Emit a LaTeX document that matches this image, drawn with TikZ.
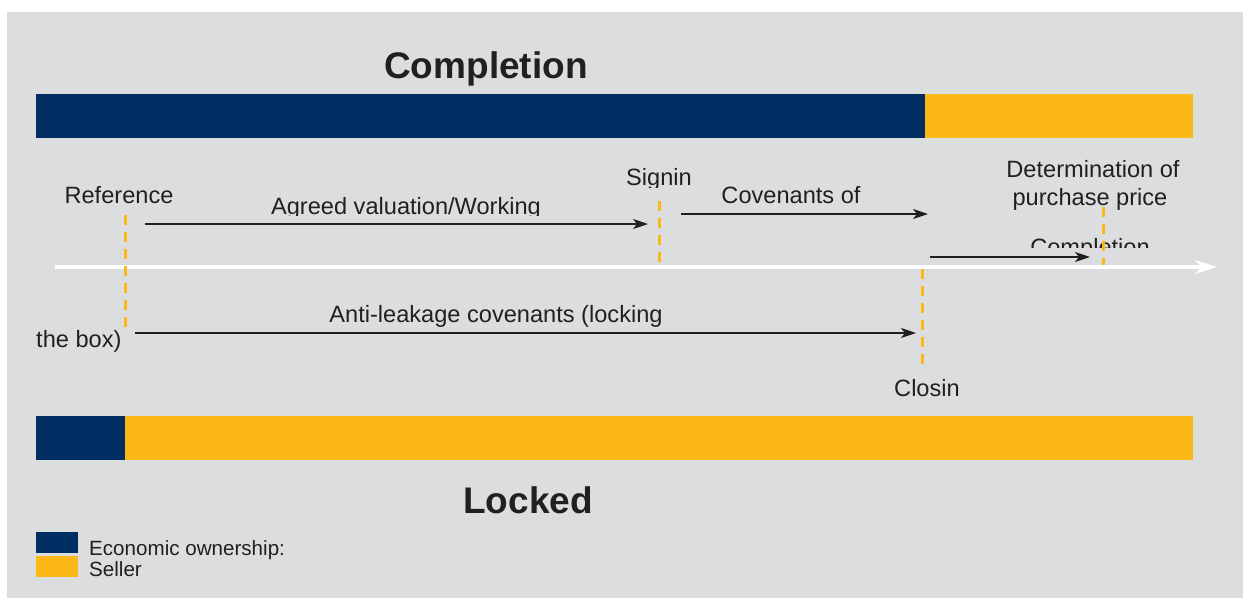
\documentclass[tikz,border=0pt]{standalone}
\usepackage{fontspec}
\setmainfont{Liberation Sans}
\usepackage{xcolor}
\usepackage{tikz}
\usetikzlibrary{arrows.meta}
\usetikzlibrary{positioning}
\definecolor{navy}{RGB}{0,45,98}
\definecolor{gold}{RGB}{252,184,22}
\definecolor{panel}{RGB}{220,221,223}
\definecolor{ink}{RGB}{35,31,32}
\tikzstyle{tag} = [text=ink, inner sep=0pt, anchor=base, font=\fontsize{23.6pt}{27pt}\selectfont]
\tikzstyle{heading} = [text=ink, inner sep=0pt, anchor=base, font=\fontsize{37pt}{42pt}\selectfont\bfseries]
\tikzstyle{legend} = [text=ink, inner sep=0pt, anchor=base west, font=\fontsize{20.6pt}{24pt}\selectfont]
\tikzstyle{arrow} = [draw=ink, line width=2pt, ->, >={Stealth[length=15pt, width=10pt, inset=4pt]}]
\tikzstyle{timeline} = [draw=white, line width=4pt, ->, >={Stealth[length=22pt, width=14pt, inset=7pt]}]
\tikzstyle{milestone} = [draw=gold, line width=3pt, dash pattern=on 10pt off 7pt]

\begin{document}
\begin{tikzpicture}[x=1pt, y=-1pt]
    \fill[white] (0,0) rectangle (1243,598);
    \useasboundingbox (0,0) rectangle (1243,598);
    \fill[panel] (7,12) rectangle (1243,598);

    % completion accounts
    \node(titleC)[heading] at (486,78) {Completion};
    \fill[navy] (36,94) rectangle (925,138);
    \fill[gold] (925,94) rectangle (1193,138);

    % locked box
    \fill[navy] (36,416) rectangle (125,460);
    \fill[gold] (125,416) rectangle (1193,460);
    \node(titleL)[heading] at (528,513) {Locked};

    % labels on the time line
    \node(ref)[tag] at (119,203) {Reference};
    \begin{scope}
      \clip (250,180) rectangle (560,215);
      \node(agreed)[tag] at (406,214) {Agreed valuation/Working};
    \end{scope}
    \begin{scope}
      \clip (600,150) rectangle (720,187);
      \node(sign)[tag] at (659,185) {Signin};
    \end{scope}
    \node(cov)[tag] at (791,203) {Covenants of};
    \node(det)[tag] at (1093,177) {Determination of};
    \node(price)[tag] at (1090,205) {purchase price};
    \begin{scope}
      \clip (1000,230) rectangle (1180,247);
      \node(compl)[tag] at (1090,255) {Completion};
    \end{scope}
    \node(leak)[tag] at (496,322) {Anti-leakage covenants (locking};
    \node(box)[tag, anchor=base west] at (36,347) {the box)};
    \node(close)[tag] at (927,396) {Closin};

    % time line and milestones
    \coordinate (t0) at (55,267);
    \coordinate (t1) at (1217,267);
    \draw[timeline] (t0) -- (t1);

    \coordinate (refTop) at (125,215);
    \coordinate (refBot) at (125,333);
    \coordinate (signTop) at (659,201);
    \coordinate (signBot) at (659,265);
    \coordinate (closeTop) at (922,269);
    \coordinate (closeBot) at (922,366);
    \coordinate (detTop) at (1103,207);
    \coordinate (detBot) at (1103,265);
    \draw[milestone] (refTop) -- (refBot);
    \draw[milestone] (signTop) -- (signBot);
    \draw[milestone] (closeTop) -- (closeBot);
    \draw[milestone] (detTop) -- (detBot);

    \coordinate (a1) at (145,224);
    \coordinate (a2) at (648,224);
    \coordinate (b1) at (681,214);
    \coordinate (b2) at (928,214);
    \coordinate (c1) at (930,257);
    \coordinate (c2) at (1090,257);
    \coordinate (d1) at (135,333);
    \coordinate (d2) at (916,333);
    \draw[arrow] (a1) -- (a2);
    \draw[arrow] (b1) -- (b2);
    \draw[arrow] (c1) -- (c2);
    \draw[arrow] (d1) -- (d2);

    % legend
    \fill[navy] (36,532) rectangle (78,553);
    \fill[gold] (36,556) rectangle (78,577);
    \node(ownTxt)[legend] at (89,555) {Economic ownership:};
    \node(sellTxt)[legend] at (89,576) {Seller};
\end{tikzpicture}
\end{document}
